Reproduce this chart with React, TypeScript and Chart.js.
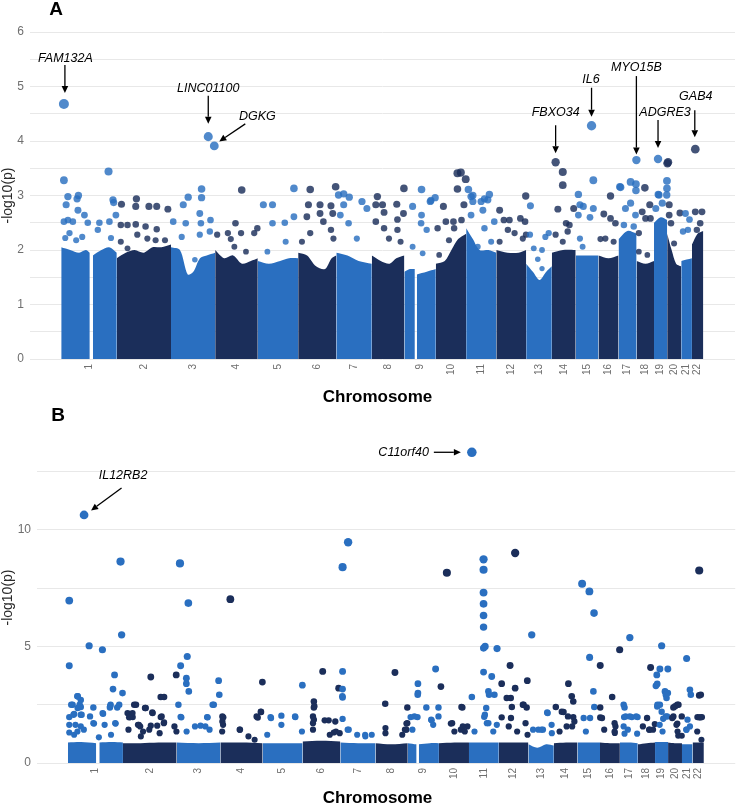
import React, { useEffect, useRef } from "react";
import { Chart, registerables } from "chart.js";

Chart.register(...registerables);

const FONT = '"Liberation Sans", Arial, Helvetica, sans-serif';

// ---------- shared genome layout ----------
const CHROMOSOMES = ["1","2","3","4","5","6","7","8","9","10","11","12","13","14","15","16","17","18","19","20","21","22"];
const CHR_LENGTH_MB = [249,243,198,191,181,171,159,146,141,136,135,134,115,107,102,90,81,78,59,63,48,51];
const X_MIN = -140;
const X_MAX = 3020;

// ---------- Panel A ----------
const A_HIT_GENES = ["FAM132A","LINC01100","DGKG","FBXO34","IL6","MYO15B","ADGRE3","GAB4"];
const A_HIT_CHR = [1,3,3,14,15,17,19,22];
const A_HIT_POS = [12,167,194,17,71,80,18,15];
const A_HIT_VAL = [4.68,4.08,3.91,3.61,4.28,3.65,3.67,3.85];

// [chromosome, position (Mb), -log10(p)]
const A_POINTS: number[][] = [
  [1,12,3.28],[1,30,2.98],[1,77,3.0],[1,71,2.94],[1,212,3.44],[1,232,2.92],[1,12,2.52],[1,30,2.55],[1,52,2.52],[1,18,2.22],[1,37,2.31],[1,22,2.83],[1,75,2.73],[1,104,2.64],[1,119,2.5],[1,94,2.24],[1,67,2.18],[1,164,2.37],[1,171,2.5],[1,216,2.52],[1,235,2.87],[1,245,2.64],[1,223,2.22],
  [2,21,2.84],[2,18,2.46],[2,48,2.46],[2,85,2.47],[2,88,2.94],[2,85,2.8],[2,144,2.8],[2,179,2.8],[2,229,2.75],[2,179,2.38],[2,129,2.43],[2,18,2.15],[2,92,2.28],[2,137,2.21],[2,216,2.18],[2,48,2.03],[2,174,2.18],
  [3,10,2.52],[3,55,2.83],[3,77,2.97],[3,137,3.12],[3,137,2.96],[3,129,2.67],[3,134,2.49],[3,177,2.55],[3,174,2.34],[3,66,2.49],[3,48,2.24],[3,129,2.28],[3,107,1.82],
  [4,119,3.1],[4,9,2.28],[4,57,2.31],[4,91,2.49],[4,116,2.31],[4,189,2.4],[4,175,2.31],[4,86,2.06],[4,138,1.97],[4,70,2.2],
  [5,25,2.83],[5,66,2.83],[5,66,2.49],[5,121,2.5],[5,162,3.13],[5,162,2.61],[5,43,1.97],[5,125,2.15],
  [6,46,2.83],[6,54,3.11],[6,39,2.61],[6,98,2.83],[6,98,2.67],[6,113,2.52],[6,147,2.81],[6,155,2.67],[6,168,3.16],[6,147,2.37],[6,54,2.31],[6,17,2.15],[6,158,2.21],
  [7,10,3.01],[7,33,3.03],[7,58,2.97],[7,115,2.89],[7,33,2.83],[7,18,2.64],[7,55,2.49],[7,92,2.21],[7,137,2.76],
  [8,25,2.98],[8,144,3.13],[8,18,2.83],[8,48,2.83],[8,55,2.69],[8,18,2.52],[8,55,2.4],[8,112,2.84],[8,115,2.56],[8,142,2.67],[8,115,2.37],[8,77,2.21],[8,129,2.15],
  [9,77,3.11],[9,119,2.91],[9,138,2.96],[9,37,2.8],[9,77,2.64],[9,75,2.49],[9,100,2.37],[9,116,2.89],[9,82,1.94],[9,37,2.06],
  [10,97,3.41],[10,112,3.42],[10,134,3.3],[10,97,3.12],[10,8,2.4],[10,34,2.8],[10,45,2.52],[10,79,2.52],[10,82,2.4],[10,115,2.55],[10,126,2.83],[10,15,1.91],[10,59,2.18],
  [11,10,3.11],[11,30,3.0],[11,104,3.02],[11,82,2.94],[11,22,2.98],[11,30,2.89],[11,22,2.64],[11,67,2.89],[11,75,2.73],[11,97,2.92],[11,82,2.4],[11,112,2.15],[11,52,2.06],[11,126,2.52],
  [12,132,2.99],[12,15,2.73],[12,34,2.55],[12,59,2.55],[12,52,2.37],[12,82,2.31],[12,108,2.58],[12,129,2.52],[12,119,2.21],[12,133,2.28],[12,15,2.15],
  [13,19,2.81],[13,17,2.28],[13,34,2.03],[13,52,1.83],[13,71,2.0],[13,86,2.24],[13,101,2.31],[13,71,1.66],
  [14,49,3.43],[14,49,3.19],[14,27,2.75],[14,17,2.28],[14,49,2.15],[14,64,2.49],[14,79,2.46],[14,98,2.76],[14,71,2.34],
  [15,79,3.28],[15,12,3.02],[15,19,2.83],[15,12,2.64],[15,64,2.6],[15,79,2.76],[15,34,2.8],[15,19,2.21],[15,31,2.06],
  [16,54,2.99],[16,24,2.66],[16,54,2.58],[16,9,2.2],[16,31,2.21],[16,76,2.49],[16,68,2.15],
  [17,9,3.15],[17,54,3.25],[17,78,3.21],[17,78,3.09],[17,6,3.16],[17,31,2.76],[17,54,2.86],[17,76,2.64],[17,24,2.46],[17,68,2.43],
  [18,37,3.14],[18,25,2.7],[18,40,2.58],[18,59,2.83],[18,62,2.58],[18,10,2.31],[18,10,1.97],[18,48,1.91],
  [19,58,3.27],[19,58,3.13],[19,57,3.01],[19,19,3.02],[19,22,3.01],[19,37,2.86],[19,8,2.76],
  [20,1,3.59],[20,4,3.61],[20,9,2.83],[20,9,2.64],[20,17,2.49],[20,57,2.68],[20,31,2.12],
  [21,19,2.67],[21,37,2.56],[21,8,2.34],[21,30,2.37],
  [22,15,2.7],[22,45,2.7],[22,37,2.49],[22,22,2.37],
];

// top of the dense SNP mass per chromosome: [position (Mb), -log10(p)], null = gap
const A_ENVELOPE: (number | null)[][][] = [
  [[0,2.05],[40,2.0],[80,1.95],[110,2.0],[128,1.95],[135,null],[142,1.9],[180,2.0],[215,2.05],[249,1.95]],
  [[0,1.85],[40,1.95],[80,2.0],[120,1.95],[160,2.05],[200,2.05],[243,2.1]],
  [[0,2.05],[40,2.0],[75,1.55],[100,1.6],[130,1.85],[160,1.9],[198,1.95]],
  [[0,2.0],[40,1.85],[80,1.9],[120,1.75],[160,1.8],[191,1.85]],
  [[0,1.8],[50,1.75],[100,1.8],[140,1.85],[181,1.85]],
  [[0,1.95],[40,1.9],[80,1.7],[120,1.65],[150,1.85],[171,1.9]],
  [[0,1.95],[50,1.9],[100,1.8],[159,1.75]],
  [[0,1.9],[40,1.8],[80,1.75],[110,1.85],[146,1.9]],
  [[0,1.6],[25,1.65],[47,1.65],[51,null],[56,1.55],[100,1.6],[141,1.65]],
  [[0,1.75],[40,1.8],[70,2.0],[100,2.2],[136,2.3]],
  [[0,2.4],[30,2.2],[60,2.0],[100,2.0],[135,1.95]],
  [[0,2.0],[50,1.95],[100,1.95],[134,2.0]],
  [[0,1.75],[30,1.6],[60,1.45],[90,1.6],[115,1.7]],
  [[0,1.95],[50,2.0],[107,2.0]],
  [[0,1.9],[50,1.9],[102,1.9]],
  [[0,1.9],[45,1.85],[90,1.9]],
  [[0,2.2],[40,2.35],[81,2.3]],
  [[0,1.8],[40,1.75],[78,1.8]],
  [[0,2.5],[30,2.6],[59,2.55]],
  [[0,2.3],[20,2.0],[40,1.75],[63,1.7]],
  [[0,1.8],[48,1.85]],
  [[0,2.1],[25,2.3],[51,2.35]],
];

// ---------- Panel B ----------
const B_HIT_GENES = ["IL12RB2","C11orf40"];
const B_HIT_CHR = [1,11];
const B_HIT_POS = [73,13];
const B_HIT_VAL = [10.64,13.33];

const B_POINTS: number[][] = [
  [1,238,8.64],[1,6,6.97],[1,6,4.17],[1,96,5.03],[1,156,4.86],[1,243,5.5],[1,211,3.78],[1,204,3.17],[1,247,3.0],[1,21,2.5],[1,58,2.4],[1,6,1.97],[1,28,2.1],[1,58,2.7],[1,44,2.86],[1,115,2.38],[1,159,2.11],[1,190,2.38],[1,223,2.38],[1,193,2.5],[1,216,1.69],[1,118,1.69],[1,6,1.64],[1,6,1.31],[1,28,1.21],[1,58,1.57],[1,44,2.36],[1,58,2.07],
  [1,43,2.86],[1,53,2.5],[1,15,2.5],[1,25,2.07],[1,62,2.07],[1,34,1.64],[1,100,2.0],[1,115,1.71],[1,43,1.35],[1,72,1.43],[1,157,2.14],[1,166,1.64],[1,191,2.43],[1,214,1.71],[1,232,2.5],[1,195,1.21],[1,140,1.1],
  [2,126,3.69],[2,171,2.83],[2,186,2.83],[2,241,3.78],[2,51,2.5],[2,44,1.97],[2,103,2.36],[2,133,2.17],[2,171,1.97],[2,186,1.74],[2,78,1.57],[2,33,1.97],[2,21,2.14],[2,43,2.14],[2,68,1.64],[2,126,1.6],[2,155,1.6],
  [2,59,2.5],[2,28,1.96],[2,25,1.43],[2,72,1.64],[2,100,2.36],[2,134,2.14],[2,175,2.0],[2,185,1.71],[2,91,1.35],[2,119,1.43],[2,166,1.28],[2,233,1.57],[2,242,1.35],[2,81,1.14],
  [3,15,8.56],[3,53,6.86],[3,48,4.57],[3,18,4.17],[3,44,3.64],[3,44,3.4],[3,55,3.07],[3,190,3.53],[3,193,2.93],[3,168,2.5],[3,138,1.97],[3,8,2.5],[3,18,1.98],[3,108,1.6],
  [3,21,1.96],[3,45,1.35],[3,140,1.96],[3,163,2.5],[3,130,1.57],[3,149,1.43],[3,83,1.57],
  [4,45,7.03],[4,190,3.47],[4,184,2.19],[4,169,1.95],[4,9,2.0],[4,9,1.78],[4,87,1.43],[4,12,1.64],
  [4,13,1.96],[4,8,1.35],[4,89,1.43],[4,127,1.14],[4,164,2.0],[4,183,2.2],[4,155,1.0],
  [5,180,3.34],[5,36,1.97],[5,85,2.03],[5,85,1.64],[5,148,1.97],[5,21,1.21],
  [5,38,1.93],[5,147,2.0],[5,178,1.35],
  [6,91,3.93],[6,163,3.21],[6,51,2.64],[6,51,2.38],[6,118,1.83],[6,51,1.86],[6,141,1.31],[6,148,1.78],
  [6,53,2.43],[6,47,2.0],[6,47,1.71],[6,47,1.43],[6,100,1.83],[6,151,1.35],[6,168,1.28],[6,123,1.21],
  [7,35,9.47],[7,10,8.4],[7,10,3.93],[7,10,3.17],[7,10,2.81],[7,33,1.43],[7,112,1.21],[7,10,1.89],
  [7,9,2.86],[7,38,1.43],[7,76,1.21],[7,113,1.14],[7,142,1.21],
  [8,88,3.88],[8,144,2.38],[8,44,2.54],[8,140,1.69],[8,133,1.43],
  [8,45,1.5],[8,45,1.28],[8,121,1.21],[8,140,1.43],[8,144,1.71],
  [9,126,4.03],[9,46,3.4],[9,46,3.0],[9,84,2.38],[9,139,2.38],[9,139,2.0],[9,108,1.83],[9,44,1.97],[9,13,1.97],
  [9,45,2.93],[9,30,2.0],[9,21,1.43],[9,106,1.86],[9,115,1.64],
  [10,36,8.16],[10,9,3.28],[10,106,2.38],[10,54,1.69],[10,99,1.43],[10,129,1.57],
  [10,60,1.71],[10,102,2.4],[10,108,1.57],[10,117,1.35],[10,70,1.35],
  [11,66,8.74],[11,66,8.29],[11,66,7.31],[11,66,6.83],[11,66,6.33],[11,66,5.83],[11,66,4.93],[11,73,5.0],[11,127,4.91],[11,66,3.9],[11,103,3.71],[11,88,3.07],[11,115,2.93],[11,13,2.83],[11,69,1.98],[11,88,1.71],[11,126,1.64],[11,78,2.36],
  [11,72,2.07],[11,91,2.93],[11,81,1.71],[11,110,1.35],[11,25,1.35],
  [12,74,9.01],[12,51,4.18],[12,13,3.4],[12,74,3.21],[12,36,2.79],[12,54,2.79],[12,129,3.53],[12,109,2.5],[12,126,2.38],
  [12,59,2.4],[12,13,1.96],[12,55,1.93],[12,112,2.5],[12,121,1.71],[12,45,1.57],[12,83,1.35],[12,130,1.21],
  [13,15,5.5],[13,85,2.17],[13,105,1.64],[13,45,1.43],[13,66,1.43],
  [13,87,2.14],[13,21,1.43],[13,59,1.43],[13,106,1.28],
  [14,66,3.4],[14,81,2.86],[14,88,2.64],[14,9,2.4],[14,44,2.19],[14,88,1.97],[14,58,1.57],
  [14,36,2.2],[14,64,2.0],[14,83,1.57],[14,26,1.35],[14,93,1.78],
  [15,21,7.69],[15,54,7.36],[15,75,6.43],[15,55,4.53],[15,72,3.07],
  [15,76,2.4],[15,28,1.93],[15,57,1.93],[15,38,1.35],
  [16,89,4.86],[16,1,4.18],[16,1,2.38],[16,1,1.95],[16,55,2.83],[16,70,1.57],[16,67,1.29],
  [16,9,1.93],[16,19,1.43],[16,66,1.71],[16,66,1.35],
  [17,45,5.38],[17,17,2.5],[17,21,2.38],[17,19,1.97],[17,54,1.97],[17,80,1.97],[17,78,1.26],[17,17,1.57],[17,21,1.26],
  [17,26,2.0],[17,45,2.0],[17,74,2.0],[17,36,1.43],
  [18,58,4.1],[18,54,1.43],[18,69,1.43],[18,77,1.67],
  [18,23,1.57],[18,51,1.43],[18,42,1.93],
  [19,30,5.03],[19,22,4.03],[19,58,4.03],[19,8,3.78],[19,10,3.39],[19,4,3.31],[19,45,3.07],[19,58,3.0],[19,52,2.79],[19,10,2.42],[19,22,2.5],[19,37,1.9],[19,55,2.0],
  [19,11,2.5],[19,30,2.2],[19,49,2.93],[19,49,2.0],[19,21,1.64],[19,34,1.35],
  [20,24,2.38],[20,42,2.5],[20,24,2.0],[20,42,1.69],[20,46,1.17],[20,62,1.17],
  [20,32,2.43],[20,47,2.5],[20,19,1.93],[20,38,1.64],[20,43,1.35],[20,62,2.0],
  [21,21,4.48],[21,36,3.14],[21,36,1.57],[21,21,1.43],
  [21,40,2.93],[21,19,1.43],[21,25,1.86],
  [22,30,8.26],[22,37,2.93],[22,22,1.97],[22,42,1.97],
  [22,30,2.9],[22,30,1.96],[22,36,1.96],[22,21,1.35],[22,40,1.0],
];

const B_ENVELOPE: (number | null)[][][] = [
  [[0,0.88],[60,0.9],[128,0.85],[135,null],[142,0.88],[200,0.9],[249,0.88]],
  [[0,0.85],[80,0.85],[160,0.88],[243,0.88]],
  [[0,0.88],[100,0.85],[198,0.88]],
  [[0,0.88],[95,0.88],[191,0.85]],
  [[0,0.85],[90,0.85],[181,0.85]],
  [[0,0.92],[85,0.95],[171,0.92]],
  [[0,0.88],[80,0.85],[159,0.85]],
  [[0,0.85],[70,0.8],[146,0.85]],
  [[0,0.85],[40,0.8],[45,null],[50,0.8],[100,0.85],[141,0.85]],
  [[0,0.85],[70,0.88],[136,0.88]],
  [[0,0.88],[70,0.88],[135,0.88]],
  [[0,0.88],[70,0.88],[134,0.88]],
  [[0,0.8],[40,0.65],[80,0.8],[115,0.75]],
  [[0,0.85],[55,0.88],[107,0.88]],
  [[0,0.88],[50,0.88],[102,0.88]],
  [[0,0.88],[45,0.85],[90,0.85]],
  [[0,0.88],[40,0.88],[81,0.85]],
  [[0,0.8],[40,0.85],[78,0.88]],
  [[0,0.9],[30,0.9],[59,0.9]],
  [[0,0.88],[30,0.85],[63,0.85]],
  [[0,0.8],[48,0.8]],
  [[0,0.88],[25,0.88],[51,0.88]],
];

// ---------- styles / layout ----------
const LIGHT = "#2A6FC0";
const DARK = "#1B2E5A";
const LIGHT_A = "rgba(42,111,192,0.82)";
const DARK_A = "rgba(27,46,90,0.82)";

// label placement relative to the point it marks (pixels): text dx,dy ; arrow start ; arrow end
const A_LABEL_LAYOUT = [
  { tx: 1.5, ty: -45, x1: 1, y1: -39, x2: 1, y2: -11 },
  { tx: 0, ty: -48.5, x1: 0, y1: -41, x2: 0, y2: -13 },
  { tx: 43, ty: -29, x1: 31, y1: -22, x2: 5, y2: -4.5 },
  { tx: 0, ty: -50, x1: 0, y1: -37, x2: 0, y2: -9 },
  { tx: -0.5, ty: -46.5, x1: 0, y1: -38, x2: 0, y2: -9 },
  { tx: 0, ty: -93, x1: 0, y1: -84, x2: 0, y2: -5.5 },
  { tx: 7, ty: -46.5, x1: 0, y1: -39, x2: 0, y2: -11 },
  { tx: 0.5, ty: -52.5, x1: -0.5, y1: -39, x2: -0.5, y2: -12 },
];
const B_LABEL_LAYOUT = [
  { tx: 39, ty: -39, x1: 37.5, y1: -27, x2: 7, y2: -4.5, align: "center" },
  { tx: -43, ty: 0, x1: -38, y1: 0, x2: -11, y2: 0, align: "right" },
];

const CHR_START: number[] = [];
CHR_LENGTH_MB.forEach((len, i) => {
  CHR_START.push(i === 0 ? 0 : CHR_START[i - 1] + CHR_LENGTH_MB[i - 1]);
});
const CHR_MID = CHR_START.map((s, i) => s + CHR_LENGTH_MB[i] / 2);
const cumPos = (chr: number, pos: number) => CHR_START[chr - 1] + pos;

function envelopeDatasets(env: (number | null)[][][]) {
  const sets: any[] = [];
  env.forEach((pairs, i) => {
    const color = i % 2 === 0 ? LIGHT : DARK;
    let seg: any[] = [];
    const flush = () => {
      if (seg.length) {
        sets.push({
          type: "line",
          data: seg,
          fill: "origin",
          backgroundColor: color,
          borderColor: color,
          borderWidth: 0,
          pointRadius: 0,
          tension: 0.3,
          order: 5,
        });
      }
      seg = [];
    };
    pairs.forEach(([p, v]) => {
      if (v === null) flush();
      else seg.push({ x: cumPos(i + 1, p as number), y: v });
    });
    flush();
  });
  return sets;
}

function drawArrow(ctx: CanvasRenderingContext2D, x1: number, y1: number, x2: number, y2: number) {
  const a = Math.atan2(y2 - y1, x2 - x1);
  const L = 7, W = 3.3;
  const bx = x2 - L * Math.cos(a), by = y2 - L * Math.sin(a);
  ctx.beginPath();
  ctx.moveTo(x1, y1);
  ctx.lineTo(bx, by);
  ctx.stroke();
  ctx.beginPath();
  ctx.moveTo(x2, y2);
  ctx.lineTo(bx + W * Math.sin(a), by - W * Math.cos(a));
  ctx.lineTo(bx - W * Math.sin(a), by + W * Math.cos(a));
  ctx.closePath();
  ctx.fill();
}

function makeConfig(panel: "A" | "B") {
  const isA = panel === "A";
  const pts = isA ? A_POINTS : B_POINTS;
  const hitsChr = isA ? A_HIT_CHR : B_HIT_CHR;
  const hitsPos = isA ? A_HIT_POS : B_HIT_POS;
  const hitsVal = isA ? A_HIT_VAL : B_HIT_VAL;
  const genes = isA ? A_HIT_GENES : B_HIT_GENES;
  const layout: any[] = isA ? A_LABEL_LAYOUT : B_LABEL_LAYOUT;
  const env = isA ? A_ENVELOPE : B_ENVELOPE;
  const radius = (v: number) => (isA ? Math.min(5, 1.35 + 0.78 * v) : Math.min(4.8, 2.9 + 0.14 * v));
  const light = isA ? LIGHT_A : LIGHT;
  const dark = isA ? DARK_A : DARK;

  const scatter = {
    type: "scatter",
    data: pts.map((p) => ({ x: cumPos(p[0], p[1]), y: p[2] })),
    backgroundColor: pts.map((p) => (p[0] % 2 === 1 ? light : dark)),
    pointRadius: pts.map((p) => radius(p[2])),
    pointHoverRadius: pts.map((p) => radius(p[2])),
    borderWidth: 0,
    order: 2,
  };
  const hits = {
    type: "scatter",
    data: hitsChr.map((c, i) => ({ x: cumPos(c, hitsPos[i]), y: hitsVal[i] })),
    backgroundColor: hitsChr.map((c) => (c % 2 === 1 ? light : dark)),
    pointRadius: hitsVal.map((v) => radius(v)),
    pointHoverRadius: hitsVal.map((v) => radius(v)),
    borderWidth: 0,
    order: 1,
  };

  const yMax = isA ? 6 : 14.2;
  const step = isA ? 0.5 : 2.5;

  const annotate = {
    id: "annotate" + panel,
    afterDraw(chart: any) {
      const { ctx, scales } = chart;
      const xs = scales.x, ys = scales.y;
      ctx.save();
      ctx.fillStyle = "#000";
      ctx.strokeStyle = "#000";
      ctx.lineWidth = 1.3;
      ctx.font = `italic 12.5px ${FONT}`;
      ctx.textBaseline = "middle";
      genes.forEach((g, i) => {
        const px = xs.getPixelForValue(cumPos(hitsChr[i], hitsPos[i]));
        const py = ys.getPixelForValue(hitsVal[i]);
        const L = layout[i];
        ctx.textAlign = L.align || "center";
        ctx.fillText(g, px + L.tx, py + L.ty);
        drawArrow(ctx, px + L.x1, py + L.y1, px + L.x2, py + L.y2);
      });
      // panel letter
      ctx.font = `bold 19px ${FONT}`;
      ctx.textAlign = "center";
      ctx.fillText(panel, isA ? 56 : 58, 10);
      // x axis title
      ctx.font = `bold 17px ${FONT}`;
      ctx.fillText("Chromosome", 377.5, chart.height - 9);
      ctx.restore();
    },
  };

  return {
    type: "scatter",
    data: { datasets: [hits, scatter, ...envelopeDatasets(env)] },
    options: {
      responsive: false,
      maintainAspectRatio: false,
      animation: false,
      events: [],
      layout: { padding: { top: isA ? 32 : 26, right: 2, left: 0, bottom: 0 } },
      plugins: { legend: { display: false }, tooltip: { enabled: false } },
      scales: {
        x: {
          type: "linear",
          min: X_MIN,
          max: X_MAX,
          grid: { display: false, drawTicks: false },
          border: { display: false },
          afterBuildTicks: (s: any) => {
            s.ticks = CHR_MID.map((v) => ({ value: v }));
          },
          ticks: {
            autoSkip: false,
            minRotation: 90,
            maxRotation: 90,
            padding: 5,
            color: "#6f6f6f",
            font: { size: 10, family: FONT },
            callback: (_v: any, i: number) => CHROMOSOMES[i],
          },
          afterFit: (s: any) => {
            s.height = isA ? 47 : 44;
          },
        },
        y: {
          min: 0,
          max: yMax,
          grid: { color: "#E8E8E8", lineWidth: 1, drawTicks: false },
          border: { display: false },
          ticks: {
            stepSize: step,
            includeBounds: false,
            padding: 6,
            color: "#6f6f6f",
            font: { size: 12, family: FONT },
            callback: (v: number) => (isA ? (Number.isInteger(v) ? String(v) : "") : v % 5 === 0 ? String(v) : ""),
          },
          title: {
            display: true,
            text: "-log10(p)",
            color: "#2a2a2a",
            font: { size: 14, family: FONT, lineHeight: 1 },
            padding: { top: 1, bottom: 0 },
          },
          afterFit: (s: any) => {
            s.width = isA ? 30 : 37;
          },
        },
      },
    },
    plugins: [annotate],
  } as any;
}

function Panel({ panel, top, height }: { panel: "A" | "B"; top: number; height: number }) {
  const ref = useRef<HTMLCanvasElement>(null);
  useEffect(() => {
    const chart = new Chart(ref.current as HTMLCanvasElement, makeConfig(panel));
    return () => chart.destroy();
  }, [panel]);
  return (
    <canvas
      ref={ref}
      width={740}
      height={height}
      style={{ position: "absolute", left: 0, top, width: 740, height, display: "block" }}
    />
  );
}

export default function App() {
  return (
    <div
      style={{
        position: "fixed",
        left: 0,
        top: 0,
        width: 740,
        height: 807,
        overflow: "hidden",
        background: "#ffffff",
      }}
    >
      <Panel panel="A" top={0} height={406} />
      <Panel panel="B" top={406} height={401} />
    </div>
  );
}
